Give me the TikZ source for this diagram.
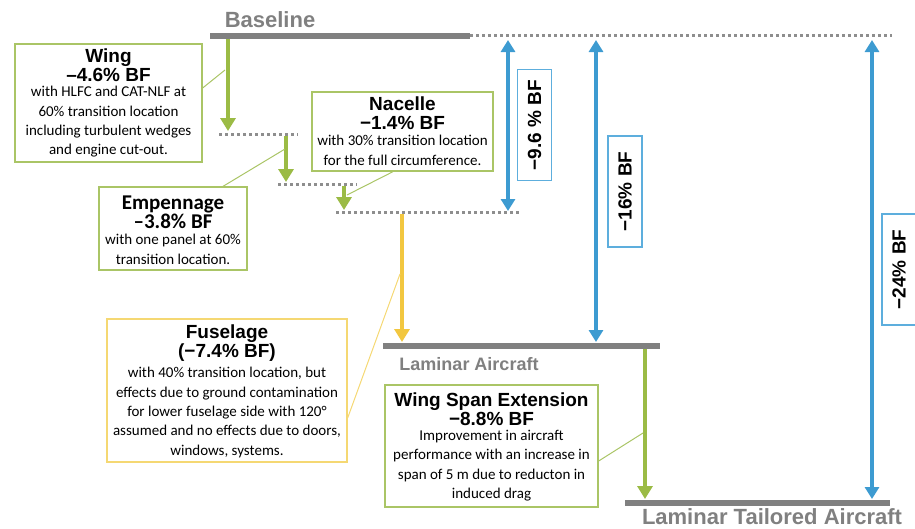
\documentclass[tikz,border=0pt]{standalone}
\usepackage{fontspec}
\setmainfont{Carlito}
\newfontfamily\arialf{Liberation Sans}
\usetikzlibrary{arrows.meta}
\definecolor{grn}{HTML}{9BBB45}
\definecolor{grnbox}{HTML}{AAC566}
\definecolor{ylw}{HTML}{F2C740}
\definecolor{ylwbox}{HTML}{F5D873}
\definecolor{blu}{HTML}{3D9BD1}
\definecolor{blubox}{HTML}{5DAEDD}
\definecolor{gry}{HTML}{808080}
\definecolor{dotg}{HTML}{8E8E8E}
\begin{document}
\begin{tikzpicture}[x=1pt,y=-1pt,
  bar/.style={gry, line width=6pt},
  dotline/.style={dotg, line width=3pt, dash pattern=on 3pt off 3pt},
  garrow/.style={grn, line width=4.5pt, -{Triangle[width=15pt,length=13pt]}},
  yarrow/.style={ylw, line width=4.5pt, -{Triangle[width=15pt,length=13pt]}},
  barrow/.style={blu, line width=4pt, {Triangle[width=14pt,length=12pt]}-{Triangle[width=14pt,length=12pt]}},
  gbox/.style={draw=grnbox, line width=1.3pt, fill=white, inner sep=0pt},
  ybox/.style={draw=ylwbox, line width=1.3pt, fill=white, inner sep=0pt},
  ttl/.style={anchor=north, align=center, inner sep=0pt, font=\arialf\bfseries\fontsize{19}{19}\selectfont},
  ttlc/.style={anchor=north, align=center, inner sep=0pt, font=\bfseries\fontsize{21}{17}\selectfont},
  body/.style={anchor=north, align=center, inner sep=0pt, font=\fontsize{15}{19.4}\selectfont},
  bbox/.style={draw=blubox, line width=1.2pt, fill=white, rotate=90, inner sep=0pt,
    font=\arialf\bfseries\fontsize{19}{20}\selectfont, minimum width=111pt, minimum height=34pt},
  gleader/.style={grnbox, line width=1pt},
  yleader/.style={ylwbox, line width=1pt},
  barlabel/.style={gry, anchor=base, inner sep=0pt, font=\arialf\bfseries\fontsize{22}{22}\selectfont},
  barlabelsm/.style={gry, anchor=base, inner sep=0pt, font=\arialf\bfseries\fontsize{18}{18}\selectfont}
]
\useasboundingbox (0,0) rectangle (915,528);

% levels
\coordinate (b1) at (210,35.5); \coordinate (b2) at (470,35.5); \coordinate (b3) at (892,35.5);
\draw[bar] (b1) -- (b2);
\draw[dotline] (b2) -- (b3);
\node[barlabel] (baselbl) at (270,27) {Baseline};

\coordinate (d1a) at (219,134); \coordinate (d1b) at (298,134);
\coordinate (d2a) at (278,184); \coordinate (d2b) at (357,184);
\coordinate (d3a) at (336,212); \coordinate (d3b) at (520,212);
\draw[dotline] (d1a) -- (d1b);
\draw[dotline] (d2a) -- (d2b);
\draw[dotline] (d3a) -- (d3b);

\coordinate (la1) at (383,346); \coordinate (la2) at (660,346);
\draw[bar] (la1) -- (la2);
\node[barlabelsm] (lalbl) at (469,370) {Laminar Aircraft};

\coordinate (lt1) at (625,503); \coordinate (lt2) at (890,503);
\draw[bar] (lt1) -- (lt2);
\node[barlabel] (ltlbl) at (772,524.5) {Laminar Tailored Aircraft};

% step arrows
\coordinate (wa1) at (228,38.5); \coordinate (wa2) at (228,131);
\draw[garrow] (wa1) -- (wa2);
\coordinate (ea1) at (286,136); \coordinate (ea2) at (286,182);
\draw[garrow] (ea1) -- (ea2);
\coordinate (na1) at (344,186); \coordinate (na2) at (344,210);
\draw[garrow] (na1) -- (na2);
\coordinate (fa1) at (402,214); \coordinate (fa2) at (402,342);
\draw[yarrow] (fa1) -- (fa2);
\coordinate (sa1) at (645,349); \coordinate (sa2) at (645,499);
\draw[garrow] (sa1) -- (sa2);

% total arrows
\coordinate (t1a) at (508,40); \coordinate (t1b) at (508,211);
\draw[barrow] (t1a) -- (t1b);
\coordinate (t2a) at (596,40); \coordinate (t2b) at (596,342);
\draw[barrow] (t2a) -- (t2b);
\coordinate (t3a) at (872,40); \coordinate (t3b) at (872,499);
\draw[barrow] (t3a) -- (t3b);

\node[bbox] (lbl1) at (534.5,125) {\textminus9.6 \% BF};
\node[bbox] (lbl2) at (625,191.5) {\textminus16\% BF};
\node[bbox] (lbl3) at (899,269.5) {\textminus24\% BF};

% wing
\node[gbox, minimum width=187pt, minimum height=118pt] (wingbox) at (108.5,103) {};
\node[ttl] (wingttl) at (108.5,49) {Wing\\–4.6\% BF};
\node[body] (wingbody) at (108.5,86) {with HLFC and CAT-NLF at\\60\% transition location\\including turbulent wedges\\and engine cut-out.};
\coordinate (wingtouch) at (225,70);
\draw[gleader] ([yshift=15pt]wingbox.east) -- (wingtouch);

% nacelle
\node[gbox, minimum width=181pt, minimum height=79pt] (nacbox) at (402.5,131.5) {};
\node[ttl] (nacttl) at (402.5,97) {Nacelle\\\textminus1.4\% BF};
\node[body] (nacbody) at (402.5,135) {with 30\% transition location\\for the full circumference.};
\coordinate (nactouch) at (347,195);
\draw[gleader] ([xshift=-9.5pt]nacbox.south) -- (nactouch);

% empennage
\node[gbox, minimum width=148pt, minimum height=83pt] (empbox) at (173,228.5) {};
\node[ttlc] (empttl) at (173,196) {Empennage\\–3.8\% BF};
\node[body] (empbody) at (173,234) {with one panel at 60\%\\transition location.};
\coordinate (emptouch) at (285,149);
\draw[gleader] ([xshift=50pt]empbox.north) -- (emptouch);

% fuselage
\node[ybox, minimum width=240pt, minimum height=143pt] (fusbox) at (227,390.5) {};
\node[ttl] (fusttl) at (227,325) {Fuselage\\(\textminus7.4\% BF)};
\node[body] (fusbody) at (227,367) {with 40\% transition location, but\\effects due to ground contamination\\for lower fuselage side with 120°\\assumed and no effects due to doors,\\windows, systems.};
\coordinate (fustouch) at (400,274);
\draw[yleader] ([yshift=-27.5pt]fusbox.east) -- (fustouch);

% wing span extension
\node[gbox, minimum width=213pt, minimum height=122pt] (wsbox) at (491.5,446) {};
\node[ttl] (wsttl) at (491.5,393) {Wing Span Extension\\\textminus8.8\% BF};
\node[body] (wsbody) at (491.5,430) {Improvement in aircraft\\performance with an increase in\\span of 5 m due to reducton in\\induced drag};
\coordinate (wstouch) at (643,433);
\draw[gleader] ([yshift=-15pt]wsbox.east) -- (wstouch);
\end{tikzpicture}
\end{document}
